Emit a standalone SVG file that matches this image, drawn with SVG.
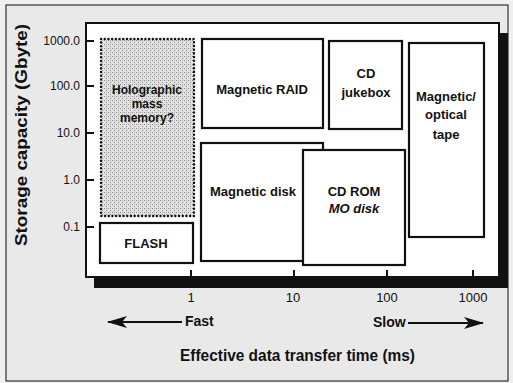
<svg xmlns="http://www.w3.org/2000/svg" width="513" height="383" viewBox="0 0 513 383">
  <defs>
    <style>
      .lbl { font-family: "Liberation Sans", Arial, sans-serif; font-weight: bold; font-size: 13px; fill: #111; text-anchor: middle; }
      .tick { font-family: "Liberation Sans", Arial, sans-serif; font-size: 12px; fill: #111; }
      .box { fill: #fff; stroke: #111; stroke-width: 2.2; }
      .axis-title { font-family: "Liberation Sans", Arial, sans-serif; font-weight: bold; fill: #111; }
      .tk { stroke: #111; stroke-width: 2; }
    </style>
    <pattern id="dither" width="4" height="4" patternUnits="userSpaceOnUse">
      <rect width="4" height="4" fill="#e2e2e2"/>
      <rect x="0" y="0" width="1" height="1" fill="#8a8a8a"/>
      <rect x="2" y="2" width="1" height="1" fill="#8a8a8a"/>
      <rect x="2" y="0" width="1" height="1" fill="#b4b4b4"/>
    </pattern>
    <marker id="head" viewBox="0 0 20 12" refX="19" refY="6" markerWidth="20" markerHeight="12" markerUnits="userSpaceOnUse" orient="auto">
      <path d="M0,0 L20,6 L0,12 L5,6 Z" fill="#111"/>
    </marker>
  </defs>

  <!-- page background and frame -->
  <rect x="0" y="0" width="513" height="383" fill="#efefef"/>
  <rect x="6" y="5" width="502" height="376" fill="#e9e9e9" stroke="#333" stroke-width="1.2"/>

  <!-- plot panel with drop shadow -->
  <rect x="94" y="33" width="414" height="255" fill="#111"/>
  <rect x="86" y="23" width="413" height="254" fill="#fff" stroke="#111" stroke-width="2"/>

  <!-- axis ticks -->
  <g id="axis-ticks">
    <line class="tk" x1="86" y1="41" x2="94" y2="41"/>
    <line class="tk" x1="86" y1="86" x2="94" y2="86"/>
    <line class="tk" x1="86" y1="133" x2="94" y2="133"/>
    <line class="tk" x1="86" y1="180" x2="94" y2="180"/>
    <line class="tk" x1="86" y1="227" x2="94" y2="227"/>
    <line class="tk" x1="191" y1="270" x2="191" y2="277"/>
    <line class="tk" x1="294" y1="270" x2="294" y2="277"/>
    <line class="tk" x1="387" y1="270" x2="387" y2="277"/>
    <line class="tk" x1="473" y1="270" x2="473" y2="277"/>
  </g>

  <g id="y-tick-labels" class="tick" text-anchor="end">
    <text x="80" y="45">1000.0</text>
    <text x="80" y="90">100.0</text>
    <text x="80" y="137">10.0</text>
    <text x="80" y="184">1.0</text>
    <text x="80" y="231">0.1</text>
  </g>
  <g id="x-tick-labels" class="tick" text-anchor="middle" style="font-size:13px">
    <text x="191" y="302">1</text>
    <text x="293" y="302">10</text>
    <text x="387" y="302">100</text>
    <text x="473" y="302">1000</text>
  </g>

  <!-- storage technology regions -->
  <g id="holographic">
    <rect x="101" y="39" width="93" height="177" fill="url(#dither)" stroke="#111" stroke-width="2.4" stroke-dasharray="0.1 3.6" stroke-linecap="round"/>
    <text class="lbl" x="147" y="94" style="font-size:12px">Holographic</text>
    <text class="lbl" x="147" y="108" style="font-size:12px">mass</text>
    <text class="lbl" x="147" y="122" style="font-size:12px">memory?</text>
  </g>
  <g id="flash">
    <rect class="box" x="100" y="223" width="93" height="40"/>
    <text class="lbl" x="146" y="248">FLASH</text>
  </g>
  <g id="magnetic-raid">
    <rect class="box" x="202" y="39" width="121" height="89"/>
    <text class="lbl" x="262" y="94">Magnetic RAID</text>
  </g>
  <g id="cd-jukebox">
    <rect class="box" x="329" y="41" width="73" height="88"/>
    <text class="lbl" x="366" y="78">CD</text>
    <text class="lbl" x="366" y="97">jukebox</text>
  </g>
  <g id="tape">
    <rect class="box" x="409" y="43" width="75" height="194"/>
    <text class="lbl" x="446" y="101">Magnetic/</text>
    <text class="lbl" x="446" y="119">optical</text>
    <text class="lbl" x="446" y="139">tape</text>
  </g>
  <g id="magnetic-disk">
    <rect class="box" x="201" y="143" width="122" height="118"/>
    <text class="lbl" x="253" y="196">Magnetic disk</text>
  </g>
  <g id="cd-rom">
    <rect class="box" x="303" y="150" width="102" height="115"/>
    <text class="lbl" x="354" y="196">CD ROM</text>
    <text class="lbl" x="354" y="213" font-style="italic">MO disk</text>
  </g>

  <!-- speed arrows -->
  <g id="connectors" stroke="#111" stroke-width="2.2" fill="none">
    <line x1="182" y1="322" x2="108" y2="322" marker-end="url(#head)"/>
    <line x1="408" y1="323" x2="483" y2="323" marker-end="url(#head)"/>
  </g>
  <g id="speed-labels" class="axis-title" font-size="14">
    <text x="185" y="326">Fast</text>
    <text x="373" y="327">Slow</text>
  </g>

  <!-- axis titles -->
  <text class="axis-title" x="180" y="361" font-size="16" textLength="235" lengthAdjust="spacingAndGlyphs">Effective data transfer time (ms)</text>
  <text class="axis-title" transform="translate(27 135) rotate(-90)" x="0" y="0" font-size="16" text-anchor="middle" textLength="222" lengthAdjust="spacingAndGlyphs">Storage capacity (Gbyte)</text>
</svg>
